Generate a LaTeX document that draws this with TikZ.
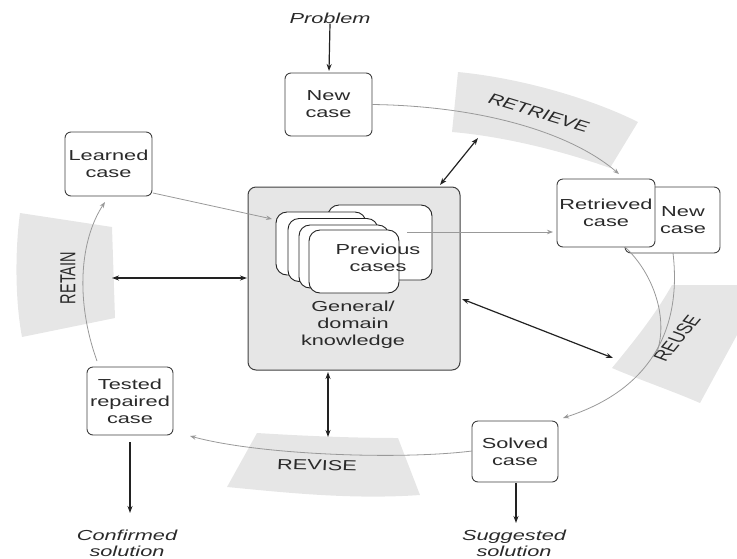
\documentclass[tikz,border=0pt]{standalone}
\usepackage{fontspec}
\setmainfont{Liberation Sans}
\newfontfamily\wfont[FakeStretch=1.5]{Liberation Sans}
\newfontfamily\nfont{Liberation Sans}
\usetikzlibrary{arrows.meta}
\definecolor{ink}{HTML}{2A2A2A}
\definecolor{edge}{HTML}{404040}
\definecolor{band}{HTML}{E6E6E6}
\definecolor{kbox}{HTML}{E6E6E6}
\definecolor{arc}{HTML}{999999}
\definecolor{blk}{HTML}{222222}
\begin{document}
\begin{tikzpicture}[x=1pt,y=-1pt,
 casebox/.style={draw=edge, line width=0.9pt, rounded corners=6pt, fill=white, inner sep=0pt, align=center, text=ink, font=\wfont\fontsize{14.5}{17}\selectfont},
 txt/.style={inner sep=0pt, align=center, text=ink, font=\wfont\fontsize{14.5}{17}\selectfont},
 itxt/.style={inner sep=0pt, align=center, text=ink, font=\wfont\itshape\fontsize{14.5}{16}\selectfont},
 card/.style={draw=blk, line width=0.9pt, rounded corners=11pt, fill=white, minimum width=90pt, minimum height=63pt, inner sep=0pt},
 flow/.style={draw=arc, line width=0.8pt, -{Stealth[length=6pt,width=4.5pt]}},
 link/.style={draw=blk, line width=1.2pt, {Stealth[length=7pt,width=5pt]}-{Stealth[length=7pt,width=5pt]}},
 outarrow/.style={draw=blk, line width=1.2pt, -{Stealth[length=7pt,width=5pt]}},
 bandtxt/.style={inner sep=0pt, text=ink, font=\nfont\fontsize{14.5}{17}\selectfont}
]
\path[use as bounding box] (0,0) rectangle (737,558);

% gray bands
\fill[band] (458,72) .. controls (520,78) and (590,98) .. (638,122) -- (610,168) .. controls (560,150) and (500,136) .. (452,132) -- cycle;
\fill[band] (20,213) -- (112,227) -- (115,318) -- (22,337) .. controls (15,300) and (15,250) .. (20,213) -- cycle;
\fill[band] (672,285) -- (737,285) -- (737,335) -- (700,403) .. controls (670,390) and (640,380) .. (612,368) .. controls (635,340) and (655,315) .. (672,285) -- cycle;
\fill[band] (257,433) .. controls (305,436) and (355,438) .. (398,438) -- (420,495) .. controls (350,500) and (280,492) .. (227,487) -- cycle;

% band labels
\begin{scope}[shift={(539,113)}]
\node[bandtxt, xscale=1.5, rotate=-24.6, transform shape] (lretrieve) at (0,0) {RETRIEVE};
\end{scope}
\begin{scope}[shift={(68,278)}]
\node[bandtxt, xscale=1.5, rotate=90, transform shape] (lretain) at (0,0) {RETAIN};
\end{scope}
\begin{scope}[shift={(677,338)}]
\node[bandtxt, xscale=1.5, rotate=61, transform shape] (lreuse) at (0,0) {REUSE};
\end{scope}
\begin{scope}[shift={(317,465)}]
\node[bandtxt, xscale=1.5, rotate=-2, transform shape] (lrevise) at (0,0) {REVISE};
\end{scope}

% knowledge box
\node[draw=edge, line width=1pt, rounded corners=8pt, fill=kbox, minimum width=212pt, minimum height=183pt, inner sep=0pt] (know) at (354,278.5) {};
\node[card, minimum width=104pt, minimum height=75pt] (cardback) at (380,242.5) {};
\node[card] (card1) at (321,243.5) {};
\node[card] (card2) at (333,250) {};
\node[card] (card3) at (344,256.5) {};
\node[card] (card4) at (354,261.5) {};
\node[txt] (prev) at (378,258) {Previous\\cases};
\node[txt] (gen) at (353,325) {General/\\domain\\knowledge};

% case boxes
\node[casebox, minimum width=87pt, minimum height=63pt] (newcase) at (328.5,104.5) {New\\case};
\node[casebox, minimum width=87pt, minimum height=64pt] (learned) at (108.5,164) {Learned\\case};
\node[casebox, minimum width=95pt, minimum height=66pt] (newcase2) at (672.5,220) {};
\node[txt] (newcase2t) at (683,220) {New\\case};
\node[casebox, minimum width=98pt, minimum height=68pt] (retrieved) at (606,213) {Retrieved\\case};
\node[casebox, minimum width=86pt, minimum height=61pt] (solved) at (515,451.5) {Solved\\case};
\node[casebox, minimum width=86pt, minimum height=68pt] (tested) at (130,401) {Tested\\repaired\\case};

% outside texts
\node[itxt] (problem) at (330,18) {Problem};
\node[itxt] (suggested) at (514,543) {Suggested\\solution};
\node[itxt] (confirmed) at (127,543) {Confirmed\\solution};

% coordinates
\coordinate (rtop) at (619,174);
\coordinate (retainS) at (97,361);
\coordinate (retainE) at (105,202);
\coordinate (reuseA) at (625,247);
\coordinate (reuseM) at (657,352);
\coordinate (reuseB) at (673,253);
\coordinate (solvedTip) at (563,418);
\coordinate (reviseS) at (472,451);
\coordinate (reviseE) at (190,436);
\coordinate (learnS) at (153,193);
\coordinate (learnE) at (272,219);
\coordinate (prevS) at (407,232);
\coordinate (prevE) at (553,232);
\coordinate (kTR) at (440,185);
\coordinate (retrBand) at (478,138);
\coordinate (retainBand) at (112,278);
\coordinate (kL) at (247,278);
\coordinate (kR) at (462,299);
\coordinate (reuseBand) at (613,358);
\coordinate (kB) at (328,372);
\coordinate (reviseBand) at (328,437);
\coordinate (probE) at (329,71);
\coordinate (solvedS) at (516,483);
\coordinate (suggE) at (516,523);
\coordinate (testedS) at (130,442);
\coordinate (confE) at (130,513);

% gray flow arcs
\draw[flow] (newcase.east) .. controls (480,106) and (570,132) .. (rtop);
\draw[flow] (retainS) .. controls (75,300) and (80,240) .. (retainE);
\draw[flow] (reviseS) .. controls (400,460) and (260,455) .. (reviseE);
\draw[draw=arc, line width=0.8pt] (reuseA) .. controls (655,275) and (668,320) .. (reuseM);
\draw[flow] (reuseB) .. controls (682,330) and (650,390) .. (solvedTip);
\draw[flow] (learnS) -- (learnE);
\draw[flow] (prevS) -- (prevE);

% black arrows
\draw[outarrow] (problem.south) -- (probE);
\draw[link] (kTR) -- (retrBand);
\draw[link] (retainBand) -- (kL);
\draw[link] (kR) -- (reuseBand);
\draw[link] (kB) -- (reviseBand);
\draw[outarrow] (solvedS) -- (suggE);
\draw[outarrow] (testedS) -- (confE);
\end{tikzpicture}
\end{document}
